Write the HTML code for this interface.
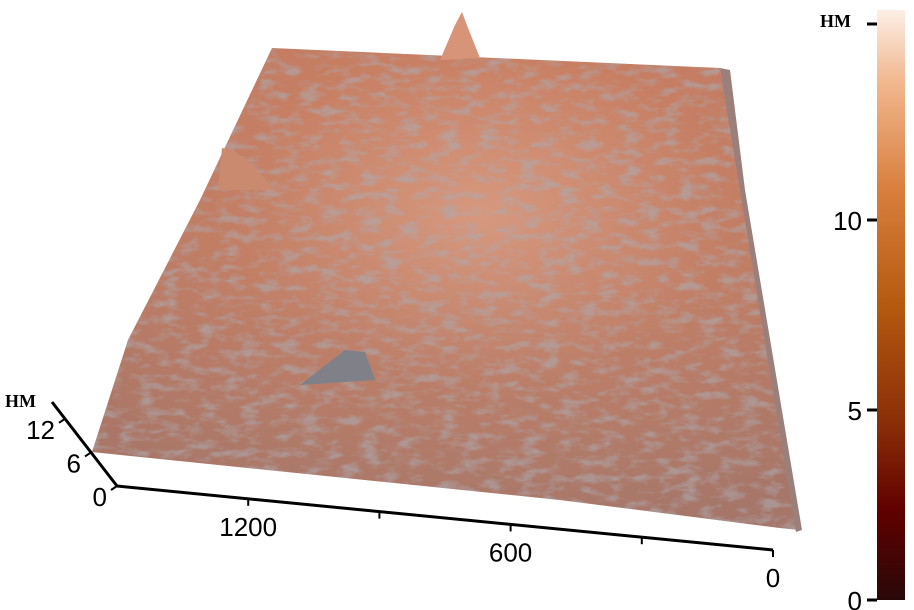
<!DOCTYPE html>
<html><head><meta charset="utf-8"><style>
html,body{margin:0;padding:0;background:#fff;width:914px;height:610px;overflow:hidden}
svg{display:block;font-family:"Liberation Sans",sans-serif}
</style></head><body>
<svg id="c" width="914" height="610">
<defs>
<linearGradient id="cb" x1="0" y1="1" x2="0" y2="0">
<stop offset="0" stop-color="#2a0808"/><stop offset="0.15" stop-color="#600000"/>
<stop offset="0.3" stop-color="#8a2e08"/><stop offset="0.5" stop-color="#b45a10"/>
<stop offset="0.7" stop-color="#d98040"/><stop offset="0.88" stop-color="#f2b890"/>
<stop offset="1" stop-color="#fcefe6"/></linearGradient>
<radialGradient id="sg" cx="0.55" cy="0.35" r="0.7">
<stop offset="0" stop-color="#dc9a7e"/><stop offset="0.5" stop-color="#c87f63"/>
<stop offset="1" stop-color="#b87660"/></radialGradient>
<linearGradient id="dk" x1="0" y1="0" x2="0" y2="1">
<stop offset="0" stop-color="#707a88" stop-opacity="0"/><stop offset="0.5" stop-color="#707a88" stop-opacity="0.08"/>
<stop offset="1" stop-color="#6a7585" stop-opacity="0.25"/></linearGradient>
<filter id="tx" x="0" y="0" width="1" height="1">
<feTurbulence type="fractalNoise" baseFrequency="0.05 0.12" numOctaves="3" seed="4"/>
<feColorMatrix values="0 0 0 0 0.42  0 0 0 0 0.40  0 0 0 0 0.43  0 0 0 -3.2 1.75"/>
<feComposite in2="SourceGraphic" operator="in"/></filter>
</defs>
<g>
<polygon points="272,48 720,68 740,180 800,530 780,528 560,500 92,452 128,340 200,200" fill="url(#sg)"/>
<polygon points="272,48 720,68 740,180 800,530 780,528 560,500 92,452 128,340 200,200" fill="url(#dk)"/>
<polygon points="272,48 720,68 740,180 800,530 780,528 560,500 92,452 128,340 200,200" fill="#000" filter="url(#tx)" opacity="0.6"/>
<polygon points="440,60 455,25 462,12 468,28 480,58" fill="#d89478"/>
<polygon points="218,190 222,148 232,150 248,160 275,190" fill="#c98a70"/>
<polygon points="300,385 345,350 365,352 375,380" fill="#7f8088"/>
<polygon points="720,68 730,70 745,190 802,530 796,532" fill="#9b7f7a"/>
</g>
<g id="axes"></g>
<g id="cbar"></g>
</svg>
<script>
const xTicks=[1200,900,600,300,0];
const xLabels=[1200,600,0];
const zTicks=[0,6,12];
const cbTicks=[0,5,10];
const ns="http://www.w3.org/2000/svg";
function mk(p,t,a){const e=document.createElementNS(ns,t);for(const k in a)e.setAttribute(k,a[k]);p.appendChild(e);return e;}
const ax=document.getElementById('axes');
const X0={x:117,y:486},X1={x:773,y:550};
function xp(v){const t=(1500-v)/1500;return {x:X0.x+(X1.x-X0.x)*t,y:X0.y+(X1.y-X0.y)*t};}
function zp(v){const t=v/15;return {x:117-65*t,y:486-84*t};}
let l=mk(ax,'line',{x1:X0.x,y1:X0.y,x2:X1.x,y2:X1.y,stroke:'#000','stroke-width':3});

l=mk(ax,'line',{x1:117,y1:486,x2:52,y2:402,stroke:'#000','stroke-width':3});

xTicks.forEach(v=>{const p=xp(v);const t=mk(ax,'line',{x1:p.x,y1:p.y,x2:p.x,y2:p.y+7,stroke:'#000','stroke-width':2});
});
xLabels.forEach(v=>{const p=xp(v);const t=mk(ax,'text',{x:p.x,y:p.y+37,'font-size':26,'text-anchor':'middle'});t.textContent=v;
});
zTicks.forEach(v=>{const p=zp(v);const t=mk(ax,'line',{x1:p.x,y1:p.y,x2:p.x-6,y2:p.y+4,stroke:'#000','stroke-width':2});

const s=mk(ax,'text',{x:p.x-10,y:p.y+20,'font-size':26,'text-anchor':'end'});s.textContent=v;
});
let h=mk(ax,'text',{x:5,y:407,'font-size':18,'font-weight':'bold','font-family':'Liberation Serif'});h.textContent='HM';

const cb=document.getElementById('cbar');
function cy(v){return 600-v*38;}
let r=mk(cb,'rect',{x:877,y:10,width:28,height:590,fill:'url(#cb)'});

cbTicks.forEach(v=>{const y=cy(v);const t=mk(cb,'line',{x1:867,y1:y,x2:877,y2:y,stroke:'#000','stroke-width':3});

const s=mk(cb,'text',{x:862,y:y+10,'font-size':26,'text-anchor':'end'});s.textContent=v;
});
let t2=mk(cb,'line',{x1:867,y1:24,x2:877,y2:24,stroke:'#000','stroke-width':3});

h=mk(cb,'text',{x:820,y:27,'font-size':18,'font-weight':'bold','font-family':'Liberation Serif'});h.textContent='HM';

</script>
</body></html>
